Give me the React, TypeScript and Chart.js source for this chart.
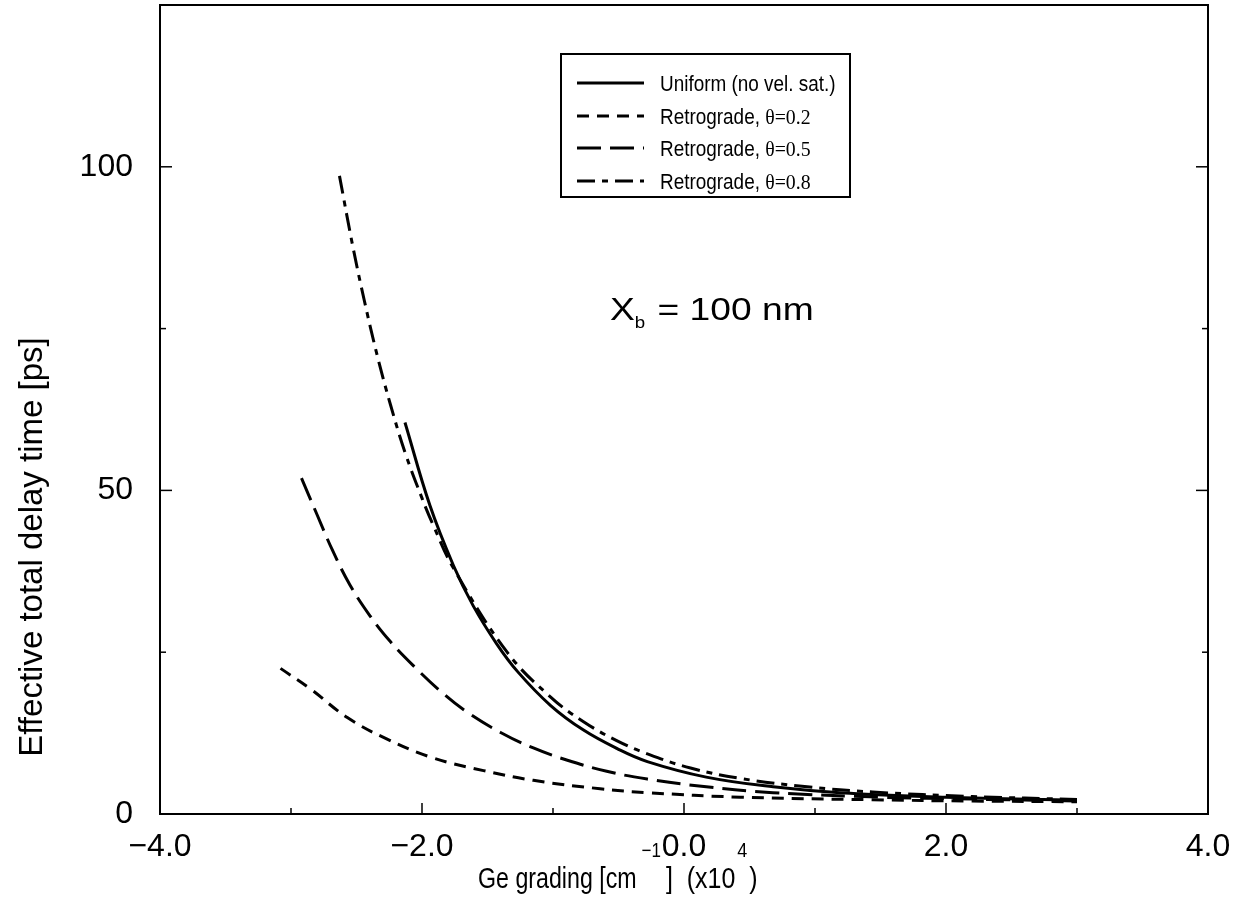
import React, { useEffect, useRef } from "react";
import { Chart, registerables } from "chart.js";

Chart.register(...registerables);

// ---- Data ----
const uniformX = [-2.13, -1.94, -1.76, -1.61, -1.43, -1.27, -1.02, -0.77, -0.51, -0.28, 0.17, 0.68, 1.19, 2.0, 3.0];
const uniformY = [60.5, 47.7, 38.4, 32.2, 26.3, 22.0, 16.8, 13.0, 10.1, 8.1, 5.7, 4.2, 3.3, 2.6, 2.1];

const retro02X = [-3.08, -2.85, -2.57, -2.27, -1.92, -1.53, -1.15, -0.64, -0.28, 0.43, 1.44, 2.2, 3.0];
const retro02Y = [22.5, 19.3, 14.9, 11.6, 8.7, 6.7, 5.2, 3.9, 3.3, 2.6, 2.2, 2.0, 1.9];

const retro05X = [-2.92, -2.8, -2.68, -2.55, -2.4, -2.24, -2.04, -1.86, -1.66, -1.4, -1.15, -0.89, -0.59, -0.28, 0.17, 0.68, 1.5, 2.2, 3.0];
const retro05Y = [51.9, 46.2, 40.6, 35.4, 30.7, 26.6, 22.4, 19.0, 15.8, 12.6, 10.2, 8.3, 6.6, 5.4, 4.2, 3.3, 2.6, 2.3, 2.0];

const retro08X = [-2.63, -2.53, -2.44, -2.34, -2.24, -2.13, -2.0, -1.92, -1.76, -1.35, -1.02, -0.77, -0.51, -0.28, 0.05, 0.43, 0.94, 1.44, 2.2, 3.0];
const retro08Y = [98.6, 87.9, 79.3, 70.7, 63.2, 55.9, 48.8, 44.9, 38.0, 25.0, 18.1, 14.3, 11.3, 9.3, 7.1, 5.5, 4.2, 3.4, 2.7, 2.25];

const seriesNames = ["Uniform (no vel. sat.)", "Retrograde, ", "Retrograde, ", "Retrograde, "];
const seriesThetas = ["", "\u03b8=0.2", "\u03b8=0.5", "\u03b8=0.8"];

const xTickValues = [-4, -2, 0, 2, 4];
const xTickLabels = ["\u22124.0", "\u22122.0", "0.0", "2.0", "4.0"];
const xMinorTicks = [-3, -1, 1, 3];
const yTickValues = [0, 50, 100];
const yTickLabels = ["0", "50", "100"];
const yMinorTicks = [25, 75];

const SANS = "'Liberation Sans', Arial, Helvetica, sans-serif";
const SERIF = "'Liberation Serif', 'Times New Roman', serif";

const DASHES: number[][] = [[], [12, 8], [24, 9], [18, 7, 6, 7]];

function pts(xs: number[], ys: number[]) {
  return xs.map((x, i) => ({ x, y: ys[i] }));
}

function drawText(ctx: CanvasRenderingContext2D, text: string, x: number, y: number, font: string, sx = 1) {
  ctx.save();
  ctx.font = font;
  ctx.textAlign = "left";
  ctx.textBaseline = "alphabetic";
  ctx.translate(x, y);
  ctx.scale(sx, 1);
  ctx.fillText(text, 0, 0);
  const w = ctx.measureText(text).width * sx;
  ctx.restore();
  return w;
}

const decorPlugin = {
  id: "decor",
  afterDraw(chart: any) {
    const { ctx, chartArea: a, scales } = chart;
    const xs = scales.x;
    const ys = scales.y;
    ctx.save();
    ctx.fillStyle = "#000";
    ctx.strokeStyle = "#000";
    // frame
    ctx.lineWidth = 2;
    ctx.setLineDash([]);
    ctx.strokeRect(a.left, a.top, a.right - a.left, a.bottom - a.top);
    // ticks (inward)
    ctx.lineWidth = 1.5;
    const tick = (x1: number, y1: number, x2: number, y2: number) => {
      ctx.beginPath();
      ctx.moveTo(x1, y1);
      ctx.lineTo(x2, y2);
      ctx.stroke();
    };
    xTickValues.forEach((v) => {
      const px = xs.getPixelForValue(v);
      tick(px, a.bottom, px, a.bottom - 11);
    });
    xMinorTicks.forEach((v) => {
      const px = xs.getPixelForValue(v);
      tick(px, a.bottom, px, a.bottom - 6);
    });
    yTickValues.forEach((v) => {
      const py = ys.getPixelForValue(v);
      tick(a.left, py, a.left + 12, py);
      tick(a.right, py, a.right - 12, py);
    });
    yMinorTicks.forEach((v) => {
      const py = ys.getPixelForValue(v);
      tick(a.left, py, a.left + 6, py);
      tick(a.right, py, a.right - 6, py);
    });

    // legend box
    const lx = 561, ly = 54, lw = 289, lh = 143;
    ctx.fillStyle = "#fff";
    ctx.fillRect(lx, ly, lw, lh);
    ctx.lineWidth = 2;
    ctx.strokeRect(lx, ly, lw, lh);
    ctx.fillStyle = "#000";
    const rows = [83, 116, 148, 181];
    rows.forEach((cy, i) => {
      ctx.save();
      ctx.lineWidth = 3;
      ctx.setLineDash(DASHES[i]);
      ctx.beginPath();
      ctx.moveTo(577, cy);
      ctx.lineTo(644, cy);
      ctx.stroke();
      ctx.restore();
      const w = drawText(ctx, seriesNames[i], 660, cy + 8, `22px ${SANS}`, 0.86);
      if (seriesThetas[i]) drawText(ctx, seriesThetas[i], 660 + w, cy + 8, `22px ${SERIF}`, 0.9);
    });

    // annotation X_b = 100 nm
    let ax = 610;
    const ab = 320;
    ax += drawText(ctx, "X", ax, ab, `31px ${SANS}`, 1.2);
    ax += drawText(ctx, "b", ax, ab + 8, `17px ${SANS}`, 1.1);
    drawText(ctx, " = 100 nm", ax + 2, ab, `31px ${SANS}`, 1.2);

    // x axis title
    let tx = 478;
    const tb = 888;
    const big = `29px ${SANS}`;
    const sup = `20px ${SANS}`;
    tx += drawText(ctx, "Ge grading [cm", tx, tb, big, 0.8);
    tx += drawText(ctx, "\u22121", tx + 5, tb - 31, sup, 0.85) + 10;
    tx += drawText(ctx, "]  (x10", tx, tb, big, 0.86);
    tx += drawText(ctx, "4", tx + 2, tb - 31, sup, 0.9) + 4;
    drawText(ctx, ")", tx, tb, big, 0.86);

    // y axis title
    ctx.save();
    ctx.translate(42, 547);
    ctx.rotate(-Math.PI / 2);
    ctx.font = `33px ${SANS}`;
    ctx.textAlign = "center";
    ctx.textBaseline = "alphabetic";
    ctx.fillText("Effective total delay time [ps]", 0, 0);
    ctx.restore();

    ctx.restore();
  },
};

export default function App() {
  const ref = useRef<HTMLCanvasElement | null>(null);

  useEffect(() => {
    if (!ref.current) return;
    const ds = (data: { x: number; y: number }[], dash: number[]) => ({
      data,
      borderColor: "#000",
      backgroundColor: "#000",
      borderWidth: 3,
      borderDash: dash,
      pointRadius: 0,
      fill: false,
      tension: 0.4,
    });
    const chart = new Chart(ref.current, {
      type: "line",
      data: {
        datasets: [
          ds(pts(uniformX, uniformY), DASHES[0]),
          ds(pts(retro02X, retro02Y), DASHES[1]),
          ds(pts(retro05X, retro05Y), DASHES[2]),
          ds(pts(retro08X, retro08Y), DASHES[3]),
        ],
      },
      options: {
        responsive: false,
        animation: false,
        devicePixelRatio: 1,
        layout: { autoPadding: false, padding: { top: 5, right: 39, left: 0, bottom: 0 } },
        plugins: { legend: { display: false }, tooltip: { enabled: false } },
        scales: {
          x: {
            type: "linear",
            min: -4,
            max: 4,
            grid: { display: false, drawTicks: false },
            border: { display: false },
            afterBuildTicks: (s: any) => {
              s.ticks = xTickValues.map((v) => ({ value: v }));
            },
            afterFit: (s: any) => {
              s.height = 99;
              s.paddingLeft = 0;
              s.paddingRight = 0;
            },
            ticks: {
              autoSkip: false,
              maxRotation: 0,
              minRotation: 0,
              padding: 14,
              color: "#000",
              font: { size: 32, family: SANS },
              callback: (v: any) => {
                const i = xTickValues.indexOf(Number(v));
                return i >= 0 ? xTickLabels[i] : "";
              },
            },
          },
          y: {
            type: "linear",
            min: 0,
            max: 125,
            grid: { display: false, drawTicks: false },
            border: { display: false },
            afterBuildTicks: (s: any) => {
              s.ticks = yTickValues.map((v) => ({ value: v }));
            },
            afterFit: (s: any) => {
              s.width = 160;
              s.paddingTop = 0;
              s.paddingBottom = 0;
            },
            ticks: {
              autoSkip: false,
              padding: 27,
              color: "#000",
              font: { size: 32, family: SANS },
              callback: (v: any) => {
                const i = yTickValues.indexOf(Number(v));
                return i >= 0 ? yTickLabels[i] : "";
              },
            },
          },
        },
      },
      plugins: [decorPlugin],
    });
    return () => chart.destroy();
  }, []);

  return (
    <div style={{ position: "absolute", left: 0, top: 0, width: 1247, height: 913, background: "#fff" }}>
      <canvas ref={ref} width={1247} height={913} style={{ display: "block" }} />
    </div>
  );
}
